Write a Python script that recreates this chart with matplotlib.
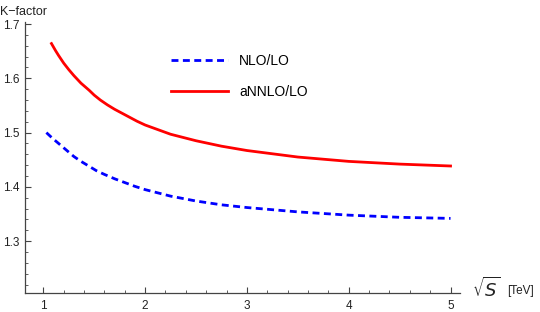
import matplotlib
matplotlib.use("Agg")
import matplotlib.pyplot as plt
from matplotlib.ticker import MultipleLocator

# K-factor vs sqrt(S) [TeV]
nlo_x = [1.03, 1.07, 1.1, 1.15, 1.2, 1.25, 1.3, 1.37, 1.45, 1.52, 1.6, 1.7, 1.8, 1.9, 2.0, 2.25,
         2.5, 2.75, 3.0, 3.5, 4.0, 4.5, 5.0]
nlo_y = [1.500, 1.493, 1.488, 1.480, 1.472, 1.464, 1.456, 1.447, 1.438, 1.430, 1.423, 1.415,
         1.408, 1.401, 1.395, 1.383, 1.374, 1.367, 1.362, 1.354, 1.348, 1.344, 1.342]

annlo_x = [1.08, 1.12, 1.15, 1.2, 1.25, 1.3, 1.37, 1.45, 1.5, 1.56, 1.63, 1.7, 1.78, 1.85, 1.92,
           2.0, 2.25, 2.5, 2.75, 3.0, 3.5, 4.0, 4.5, 5.0]
annlo_y = [1.664, 1.651, 1.642, 1.628, 1.616, 1.605, 1.591, 1.578, 1.569, 1.560, 1.551, 1.543,
           1.535, 1.528, 1.521, 1.514, 1.497, 1.485, 1.475, 1.467, 1.455, 1.447, 1.442, 1.4385]

labels = ["NLO/LO", "aNNLO/LO"]

plt.rcParams['font.family'] = ['Liberation Sans', 'DejaVu Sans']

fig = plt.figure(figsize=(5.4, 3.12), dpi=100)
ax = fig.add_axes([25 / 540, 1 - 293 / 312, (460 - 25) / 540, (293 - 22) / 312])

ax.plot(nlo_x, nlo_y, color=(0, 0, 1), lw=2, dashes=(2.5, 1.6), label=labels[0])
ax.plot(annlo_x, annlo_y, color=(1, 0, 0), lw=2, label=labels[1])

ax.set_xlim(0.82, 5.093)
ax.set_ylim(1.2046, 1.7037)

for s in ["top", "right"]:
    ax.spines[s].set_visible(False)
for s in ["left", "bottom"]:
    ax.spines[s].set_color("#444444")
    ax.spines[s].set_linewidth(0.9)

ax.xaxis.set_major_locator(MultipleLocator(1))
ax.xaxis.set_minor_locator(MultipleLocator(0.2))
ax.yaxis.set_major_locator(MultipleLocator(0.1))
ax.yaxis.set_minor_locator(MultipleLocator(0.02))
ax.set_yticks([1.3, 1.4, 1.5, 1.6, 1.7])
ax.set_yticklabels(["1.3", "1.4", "1.5", "1.6", "1.7"])
ax.tick_params(which="major", direction="in", length=4, width=0.8, color="#444444",
               labelsize=8.5, labelcolor="#222222", pad=4)
ax.tick_params(axis="x", which="major", pad=5)
ax.tick_params(which="minor", direction="in", length=2.5, width=0.6, color="#444444")

leg = ax.legend(loc="upper left", bbox_to_anchor=(164 / 540, 1 - 47 / 312),
                bbox_transform=fig.transFigure, frameon=False, fontsize=10,
                handlelength=4.1, handletextpad=0.8, labelspacing=1.2, borderpad=0)

fig.text(0.0, 1 - 12 / 312, "K\u2212factor", fontsize=9, va="center", ha="left", color="#222222")
fig.text(472 / 540, 1 - 289 / 312, r"$\sqrt{S}$", fontsize=13, va="center", ha="left",
         color="#222222")
fig.text(507 / 540, 1 - 291 / 312, "[TeV]", fontsize=8.5, va="center", ha="left",
         color="#222222")

fig.savefig("out.png", dpi=100)
